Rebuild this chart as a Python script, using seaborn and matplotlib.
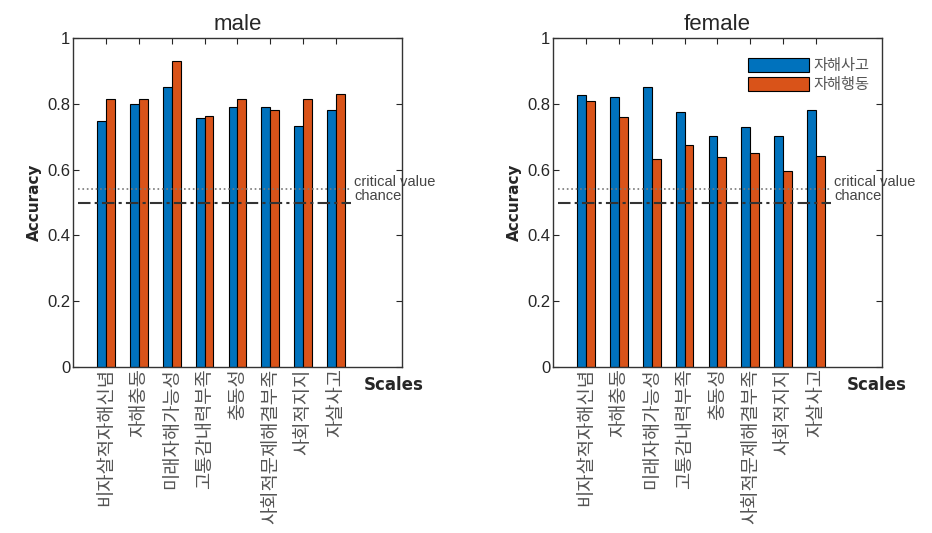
import numpy as np
import pandas as pd
import seaborn as sns
import matplotlib.pyplot as plt

scales = ['비자살적자해신념', '자해충동', '미래자해가능성', '고통감내력부족',
          '충동성', '사회적문제해결부족', '사회적지지', '자살사고']
series = ['자해사고', '자해행동']

male_thought = [0.749, 0.799, 0.851, 0.758, 0.790, 0.790, 0.733, 0.783]
male_behav = [0.815, 0.815, 0.930, 0.764, 0.815, 0.782, 0.815, 0.831]
female_thought = [0.826, 0.820, 0.852, 0.774, 0.702, 0.730, 0.702, 0.781]
female_behav = [0.810, 0.759, 0.634, 0.675, 0.638, 0.652, 0.596, 0.643]

critical_value = 0.54
chance = 0.5
yticks = [0, 0.2, 0.4, 0.6, 0.8, 1]
ytick_labels = ['0', '0.2', '0.4', '0.6', '0.8', '1']

colors = ['#0072BD', '#D95319']

sns.set_style('white')
plt.rcParams['font.family'] = ['Liberation Sans', 'Noto Sans CJK KR', 'DejaVu Sans']


def make_df(a, b):
  rows = []
  for s, vals in zip(series, [a, b]):
    for sc, v in zip(scales, vals):
      rows.append({'scale': sc, 'group': s, 'acc': v})
  return pd.DataFrame(rows)


fig = plt.figure(figsize=(9.32, 5.33), dpi=100)
ax1 = fig.add_axes([0.0783, 0.3114, 0.353, 0.617])
ax2 = fig.add_axes([0.5933, 0.3114, 0.353, 0.617])

for ax, title, (a, b), scales_x in [(ax1, 'male', (male_thought, male_behav), 8.75),
                                    (ax2, 'female', (female_thought, female_behav), 8.85)]:
  df = make_df(a, b)
  sns.barplot(data=df, x='scale', y='acc', hue='group', palette=colors,
              width=0.54, edgecolor='black', linewidth=0.8, ax=ax,
              legend=(ax is ax2), saturation=1)
  ax.set_xlim(-1, 9)
  ax.set_ylim(0, 1)
  ax.plot([-0.85, 7.45], [critical_value] * 2, ls=':', color='#777777', lw=1.2)
  ax.plot([-0.85, 7.45], [chance] * 2, ls=(0, (6, 2, 1.5, 2)), color='#333333', lw=1.5)
  ax.text(7.55, critical_value + 0.024, 'critical value', fontsize=10.5, color='#444444',
          va='center', ha='left', clip_on=False)
  ax.text(7.55, chance + 0.021, 'chance', fontsize=10.5, color='#444444',
          va='center', ha='left', clip_on=False)
  ax.set_yticks(yticks)
  ax.set_yticklabels(ytick_labels, fontsize=12)
  ax.set_xticks(range(len(scales)))
  ax.set_xticklabels(scales, rotation=90, fontsize=13.5, color='#555555',
                     family=['Noto Sans CJK KR', 'DejaVu Sans'], va='top')
  ax.tick_params(axis='both', direction='in', length=4, top=True, right=True,
                 bottom=True, left=True, pad=2)
  ax.tick_params(axis='x', pad=1)
  for sp in ax.spines.values():
    sp.set_visible(True)
    sp.set_color('#333333')
    sp.set_linewidth(1.0)
  ax.set_title(title, fontsize=16, pad=6)
  ax.set_xlabel('')
  ax.set_ylabel('Accuracy', fontsize=11, fontweight='bold', family='DejaVu Sans')
  ax.text(scales_x, -0.055, 'Scales', fontsize=12, fontweight='bold', family='DejaVu Sans',
          ha='center', va='center', transform=ax.transData, clip_on=False)

leg = ax2.legend(loc='upper right', bbox_to_anchor=(0.99, 0.97), frameon=False,
                 handlelength=4.0, handleheight=1.0, labelspacing=0.15,
                 handletextpad=0.3, fontsize=11, borderaxespad=0.2)
for t in leg.get_texts():
  t.set_color('#555555')
  t.set_family(['Noto Sans CJK KR', 'DejaVu Sans'])

fig.savefig('out.png', dpi=100)
